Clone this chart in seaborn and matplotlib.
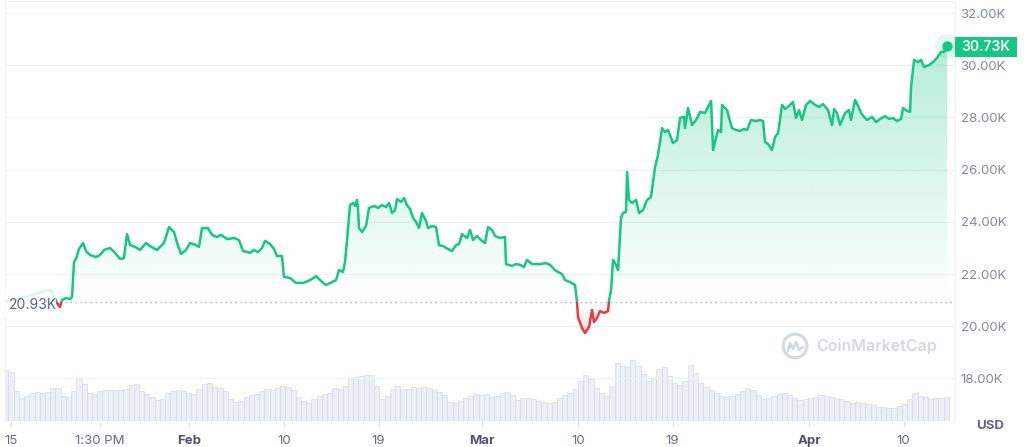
import numpy as np
import pandas as pd
import matplotlib
matplotlib.use("Agg")
import matplotlib.pyplot as plt
import matplotlib.colors as mcolors
from matplotlib.patches import Rectangle
from matplotlib.path import Path
import seaborn as sns

# ---------------- data (days since Jan 15, price in thousands USD) ----------------
jan_days = [-0.57, 0.10, 0.86, 1.63, 2.30, 2.97, 3.73, 4.11, 4.40, 4.69, 4.88, 5.26, 5.65, 5.84,
            6.03, 6.22, 6.51, 6.89, 7.18, 7.56, 8.13, 8.52, 8.90, 9.47, 10.05, 10.43, 10.81, 11.10,
            11.39, 11.87, 12.34, 12.92, 13.30, 13.97, 14.64, 15.12, 15.60, 15.89, 16.27, 16.75,
            17.13, 17.70, 17.99, 18.28, 18.85, 19.23, 19.71, 20.10, 20.67, 21.34, 21.82, 22.20, 22.68]
jan_price = [20.93, 21.00, 21.08, 21.16, 21.23, 21.31, 21.39, 21.16, 20.89, 20.74, 21.00, 21.08, 21.04, 21.12,
             22.46, 22.58, 22.96, 23.19, 22.88, 22.73, 22.65, 22.73, 22.92, 23.00, 22.77, 22.58, 22.61, 23.53,
             23.11, 23.04, 22.92, 23.19, 23.07, 22.92, 23.19, 23.80, 23.61, 23.19, 22.77, 22.92,
             23.19, 23.11, 23.04, 23.76, 23.76, 23.50, 23.42, 23.50, 23.34, 23.38, 23.30, 22.88, 22.84]

feb_days = [22.87, 23.25, 23.64, 24.02, 24.31, 24.78, 25.17, 25.45, 25.93, 26.12, 26.70, 27.27, 27.94,
            28.42, 28.80, 29.19, 29.67, 30.14, 30.72, 31.10, 31.39, 31.77, 31.96, 32.15, 32.44, 32.73,
            32.92, 33.11, 33.21, 33.30, 33.59, 33.97, 34.26, 34.74, 35.12, 35.50, 35.89, 36.17, 36.46,
            36.75, 36.94, 37.32, 37.61, 37.89, 38.18, 38.47, 38.76, 39.04, 39.33, 39.71, 39.90, 40.29,
            40.67, 40.96, 41.34, 41.82, 42.20, 42.58, 42.87, 43.16, 43.64, 43.92, 44.21, 44.59, 44.98,
            45.36, 45.65, 46.03, 46.32, 46.79, 47.27]
feb_price = [22.81, 22.92, 22.84, 23.00, 23.27, 23.15, 22.96, 22.69, 22.69, 21.89, 21.85, 21.66, 21.66,
             21.73, 21.81, 21.92, 21.73, 21.58, 21.69, 21.77, 22.15, 22.08, 22.46, 23.27, 24.64, 24.72,
             24.61, 24.84, 24.45, 23.76, 23.61, 23.84, 24.53, 24.61, 24.53, 24.64, 24.57, 24.72, 24.34,
             24.45, 24.87, 24.76, 24.91, 24.64, 24.49, 24.15, 24.00, 23.76, 24.34, 24.03, 23.76, 23.84,
             23.80, 23.11, 23.07, 22.96, 22.88, 23.11, 23.15, 23.53, 23.38, 23.69, 23.30, 23.46, 23.30,
             23.19, 23.80, 23.69, 23.46, 23.38, 23.42]

mar_days = [47.37, 47.94, 48.33, 48.71, 49.09, 49.38, 49.86, 50.62, 51.20, 51.58, 52.06, 52.34, 52.73,
            53.01, 53.49, 53.97, 54.16, 54.26, 54.64, 54.93, 55.31, 55.60, 55.79, 56.08, 56.36, 56.75,
            57.13, 57.22, 57.42, 57.61, 57.89, 58.09, 58.37, 58.56, 58.85, 58.95, 59.14, 59.43, 59.81,
            60.10, 60.48, 60.86, 61.24, 61.63, 61.91, 62.30, 62.58, 62.87, 63.35, 63.73, 64.02, 64.40,
            64.50, 64.78, 65.17, 65.55, 65.93]
mar_price = [22.38, 22.31, 22.38, 22.35, 22.27, 22.54, 22.38, 22.38, 22.42, 22.35, 22.15, 22.08, 22.00,
             21.77, 21.69, 21.58, 20.93, 20.35, 19.93, 19.74, 19.97, 20.62, 20.16, 20.32, 20.58, 20.51,
             20.58, 20.97, 21.39, 22.54, 22.35, 22.15, 24.15, 24.34, 24.38, 25.91, 24.84, 24.72, 24.84,
             24.34, 24.45, 24.84, 24.95, 26.10, 26.56, 27.59, 27.44, 27.52, 27.02, 27.13, 27.98, 28.02,
             27.59, 28.36, 27.71, 27.90, 28.21]

apr_days = [66.41, 66.99, 67.18, 67.46, 67.66, 67.94, 68.04, 68.52, 68.71, 68.99, 69.38, 69.76, 70.14,
            70.43, 70.81, 71.29, 71.67, 71.96, 72.15, 72.44, 72.82, 73.11, 73.40, 73.78, 74.07, 74.45,
            74.83, 75.12, 75.41, 75.69, 76.08, 76.46, 76.94, 77.32, 77.70, 78.18, 78.56, 78.76, 79.04,
            79.33, 79.81, 80.19, 80.38, 80.77, 81.05, 81.34, 81.63, 81.91, 82.39, 82.78, 83.16, 83.64,
            84.02, 84.40, 84.78, 85.17, 85.36, 85.74, 86.03, 86.12, 86.41, 86.79, 87.08, 87.37, 87.85,
            88.23, 88.61, 89.00, 89.28, 89.57]
apr_price = [28.17, 28.63, 26.75, 27.21, 27.52, 27.44, 28.48, 28.28, 27.98, 27.59, 27.52, 27.48, 27.56,
             27.52, 27.90, 27.86, 27.90, 27.86, 27.06, 26.98, 26.75, 27.25, 27.40, 28.48, 28.32, 28.44,
             28.59, 27.98, 28.28, 27.90, 28.48, 28.63, 28.48, 28.40, 28.51, 28.28, 27.71, 28.32, 28.17,
             27.71, 28.17, 28.28, 27.90, 28.67, 28.44, 28.17, 28.02, 27.90, 28.02, 27.82, 27.94, 28.05,
             27.94, 27.98, 27.86, 27.94, 28.36, 28.25, 28.21, 29.13, 30.20, 30.12, 30.20, 29.93, 30.01,
             30.12, 30.28, 30.51, 30.51, 30.73]

# volume (billions USD), one bar every half day starting at day -0.5
vol_start_day = -0.5
vol_step_day = 0.5
volume_b = [51, 49, 30, 23, 25, 28, 29, 28, 29, 33,
            33, 25, 24, 30, 42, 37, 28, 27, 30, 31,
            31, 31, 31, 32, 36, 37, 30, 27, 24, 21,
            22, 28, 30, 31, 30, 28, 27, 32, 37, 38,
            34, 33, 30, 22, 19, 20, 24, 26, 27, 30,
            32, 31, 33, 35, 34, 31, 24, 20, 18, 22,
            25, 27, 28, 33, 32, 35, 42, 44, 45, 46,
            46, 35, 22, 25, 32, 35, 32, 32, 34, 33,
            34, 33, 31, 29, 26, 19, 18, 20, 23, 25,
            27, 26, 27, 24, 25, 28, 29, 26, 21, 23,
            23, 22, 20, 19, 18, 19, 23, 26, 28, 32,
            40, 46, 42, 33, 28, 25, 35, 58, 55, 54,
            61, 55, 47, 40, 42, 52, 54, 45, 38, 36,
            40, 56, 48, 38, 34, 31, 28, 25, 24, 25,
            27, 30, 33, 31, 26, 22, 23, 25, 27, 28,
            26, 23, 21, 22, 23, 24, 26, 25, 24, 23,
            22, 20, 18, 19, 18, 17, 16, 14, 14, 13,
            13, 15, 17, 22, 28, 25, 24, 22, 23, 23,
            24]

baseline_k = 20.93
last_k = 30.73
y_ticks_k = [18, 20, 22, 24, 26, 28, 30, 32]
x_tick_pos = [0, 8.5, 17.03, 26.12, 35.17, 45.07, 54.26, 63.30, 76.36, 85.41]
x_tick_labels = ["15", "1:30 PM", "Feb", "10", "19", "Mar", "10", "19", "Apr", "10"]
month_labels = {"Feb", "Mar", "Apr"}

# ---------------- styling ----------------
GREEN = "#16c784"
RED = "#ea3943"
GRID = "#eff2f5"

sns.set_theme(style="white")
plt.rcParams["font.family"] = ["Inter", "DejaVu Sans"]

W, H = 1024, 447
fig = plt.figure(figsize=(W / 100, H / 100), dpi=100)
rect = [5 / W, 1 - 421 / H, 950 / W, 420 / H]
ax_vol = fig.add_axes(rect)
ax = fig.add_axes(rect, sharex=ax_vol)
ax.patch.set_visible(False)

days = np.array(jan_days + feb_days + mar_days + apr_days)
prices = np.array(jan_price + feb_price + mar_price + apr_price)
df = pd.DataFrame({"day": days, "price": prices})

x0, x1 = -0.574, 90.33
y0, y1 = 16.369, 32.46

# volume bars
vol_x = vol_start_day + vol_step_day * np.arange(len(volume_b))
ax_vol.bar(vol_x, volume_b, width=vol_step_day, color="#edeff6", edgecolor="#d2d6e4", linewidth=0.45)
ax_vol.set_ylim(0, 420)
ax_vol.axis("off")

base = baseline_k
grad = np.linspace(0, 1, 256).reshape(-1, 1)

# green gradient fill (above baseline)
poly_g = ax.fill_between(days, prices, base, where=prices >= base, interpolate=True,
                         facecolor="none", edgecolor="none")
path_g = Path.make_compound_path(*poly_g.get_paths())
g = mcolors.to_rgb(GREEN)
cm_g = mcolors.LinearSegmentedColormap.from_list("g", [(*g, 0.0), (*g, 0.32)])
im_g = ax.imshow(grad, extent=[x0, x1, base, prices.max()], origin="lower", aspect="auto",
                 cmap=cm_g, zorder=1, interpolation="bilinear")
im_g.set_clip_path(path_g, ax.transData)

# red gradient fill (below baseline)
poly_r = ax.fill_between(days, prices, base, where=prices <= base, interpolate=True,
                         facecolor="none", edgecolor="none")
path_r = Path.make_compound_path(*poly_r.get_paths())
r = mcolors.to_rgb(RED)
cm_r = mcolors.LinearSegmentedColormap.from_list("r", [(*r, 0.16), (*r, 0.0)])
im_r = ax.imshow(grad, extent=[x0, x1, prices.min(), base], origin="lower", aspect="auto",
                 cmap=cm_r, zorder=1, interpolation="bilinear")
im_r.set_clip_path(path_r, ax.transData)

# price line: green above baseline, red below
sns.lineplot(data=df, x="day", y="price", ax=ax, color=GREEN, linewidth=1.8,
             estimator=None, sort=False, zorder=3)
ax.lines[-1].set_clip_path(Rectangle((x0, base), x1 - x0, 50, transform=ax.transData))
sns.lineplot(data=df, x="day", y="price", ax=ax, color=RED, linewidth=1.8,
             estimator=None, sort=False, zorder=3)
ax.lines[-1].set_clip_path(Rectangle((x0, base - 50), x1 - x0, 50, transform=ax.transData))

# baseline (dotted) and its label
ax.axhline(base, color="#a7aec0", lw=1, ls=(0, (1, 2.6)), zorder=2)
ax.add_patch(Rectangle((x0, 20.32), 4.31 - x0, 1.22, facecolor="white", edgecolor="none",
                       alpha=0.85, zorder=4))
ax.text(-0.2, 20.81, f"{baseline_k:.2f}K", ha="left", va="center", fontsize=10,
        color="#58667e", zorder=5)

# end marker
ax.scatter([days[-1]], [prices[-1]], s=320, color=GREEN, alpha=0.12, zorder=5, linewidths=0)
ax.scatter([days[-1]], [prices[-1]], s=55, color=GREEN, zorder=6, linewidths=0)

# axes / ticks
ax.set_xlim(x0, x1)
ax.set_ylim(y0, y1)
ax.set_xlabel("")
ax.set_ylabel("")
ax.set_yticks(y_ticks_k)
ax.set_yticklabels([f"{v:.2f}K" for v in y_ticks_k])
ax.yaxis.tick_right()
ax.grid(axis="y", color=GRID, lw=1)
ax.grid(axis="x", visible=False)
ax.tick_params(axis="y", length=0, pad=4, labelsize=9.5, labelcolor="#808a9d")
ax.set_xticks(x_tick_pos)
ax.set_xticklabels(x_tick_labels)
ax.tick_params(axis="x", length=4, width=1, color="#dfe3ea", pad=6, labelsize=9.5,
               labelcolor="#616e85", bottom=True)
for lbl in ax.get_xticklabels():
    if lbl.get_text() in month_labels:
        lbl.set_fontweight("bold")
        lbl.set_color("#4a5568")
for side in ["left", "right", "top"]:
    ax.spines[side].set_color(GRID)
    ax.spines[side].set_linewidth(1)
ax.spines["bottom"].set_visible(False)

# current price tag
fig.patches.append(Rectangle((955 / W, 1 - 57 / H), 62 / W, 20 / H, transform=fig.transFigure,
                             facecolor=GREEN, edgecolor="none", figure=fig))
fig.text(986 / W, 1 - 47 / H, f"{last_k:.2f}K", ha="center", va="center", color="white",
         fontsize=10, fontweight="semibold")

# currency label
fig.text(990 / W, 1 - 426 / H, "USD", ha="center", va="center", color="#58667e",
         fontsize=9.5, fontweight="bold")

# watermark
wm = "#d3d8e5"
ax.scatter([0.8316], [0.1786], transform=ax.transAxes, s=290, facecolors="none",
           edgecolors=wm, linewidths=2.2, zorder=2)
mx = np.array([-7, -5, -2, 1, 4, 8]) / 950 + 0.8316
my = np.array([-5, 3, -3, 4, -4, -1]) / 420 + 0.1786
ax.plot(mx, my, transform=ax.transAxes, color=wm, lw=2, zorder=2, solid_capstyle="round")
ax.text(0.8537, 0.1786, "CoinMarketCap", transform=ax.transAxes, ha="left", va="center",
        fontsize=11.5, fontweight="semibold", color=wm, zorder=2)

fig.savefig("out.png", dpi=100)
